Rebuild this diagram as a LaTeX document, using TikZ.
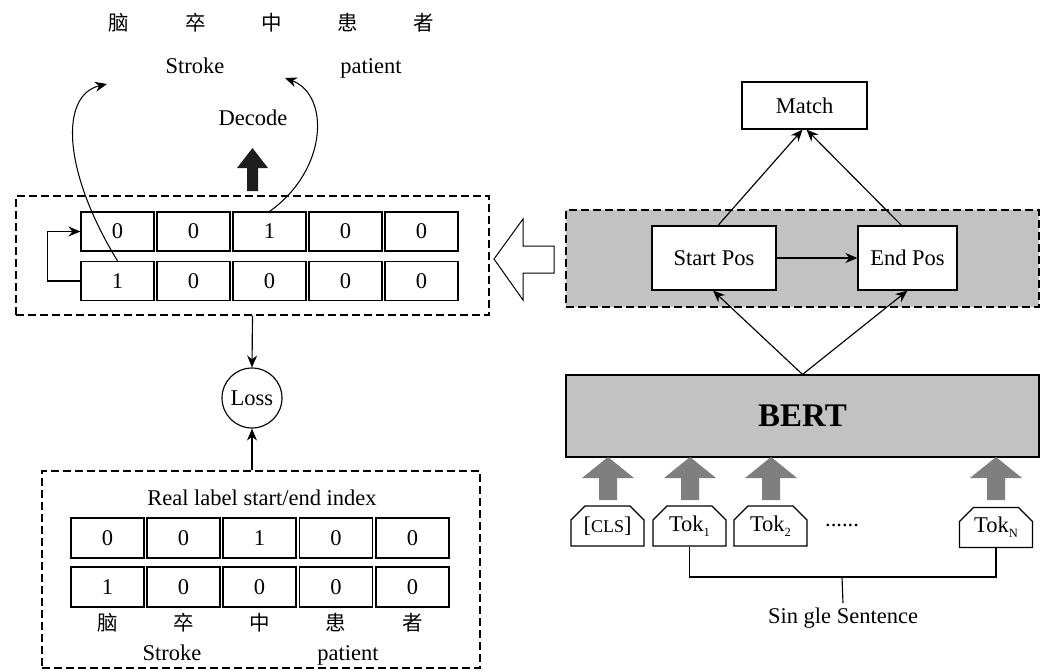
\documentclass[tikz,border=0pt]{standalone}
\usepackage{fontspec}
\setmainfont{Liberation Serif}
\newfontfamily\cjk{Noto Sans CJK SC}
\usetikzlibrary{arrows.meta,shapes.misc}
\definecolor{boxgray}{HTML}{C2C2C2}
\definecolor{arrgray}{HTML}{7F7F7F}
\definecolor{darkarr}{HTML}{1E1E1E}
\tikzset{
  txt/.style={font=\fontsize{22.5}{26}\selectfont, inner sep=0pt},
  cjkt/.style={font=\cjk\fontsize{20.5}{24}\selectfont, inner sep=0pt},
  cell/.style={txt, draw, minimum width=73pt, minimum height=39pt},
  dbox/.style={draw, dash pattern=on 8pt off 4pt, inner sep=0pt},
  arr/.style={-{Stealth[length=12pt,width=10pt]}},
  posbox/.style={txt, draw, fill=white, minimum height=64pt},
  tokbox/.style={txt, draw, fill=white, chamfered rectangle, chamfered rectangle corners={north west,north east}, chamfered rectangle xsep=7pt, chamfered rectangle ysep=7pt, minimum width=73pt, minimum height=40pt},
}
\begin{document}
\begin{tikzpicture}[x=1pt,y=-1pt,line width=1.15pt]
\useasboundingbox (0,0) rectangle (1047,670);

% ---------- top words ----------
\foreach \c/\x [count=\i] in {脑/119,卒/196,中/272,患/348,者/424}
  \node[cjkt] (tc\i) at (\x,23) {\c};
\node[txt, anchor=base] (strokeT) at (195,73) {Stroke};
\node[txt, anchor=base] (patientT) at (371,73) {patient};
\node[txt] (decode) at (253,118) {Decode};
\fill[darkarr] (247,191) -- (258,191) -- (258,168) -- (268,168) -- (252.5,148) -- (237,168) -- (247,168) -- cycle;

% ---------- predicted grid ----------
\node[dbox, minimum width=473pt, minimum height=119pt] (boxA) at (252.5,255.5) {};
\foreach \v/\x [count=\i] in {0/117.5,0/193.5,1/269.5,0/345.5,0/421.5}
  \node[cell] (t\i) at (\x,231.5) {\v};
\foreach \v/\x [count=\i] in {1/117.5,0/193.5,0/269.5,0/345.5,0/421.5}
  \node[cell] (b\i) at (\x,281) {\v};
\draw[arr] (b1.west) -- ++(-33,0) |- (t1.west);
\coordinate (e1) at (107,84);
\coordinate (e2) at (285,78);
\draw[arr, line width=1.05pt] (b1.north) .. controls (62,170) and (60,95) .. (e1);
\draw[arr, line width=1.05pt] (t3.north) .. controls (328,170) and (330,95) .. (e2);

% ---------- loss ----------
\node[txt, draw, circle, minimum size=60pt] (loss) at (252,398) {Loss};
\draw[arr] (boxA.south) -- (loss.north);

% ---------- real label box ----------
\node[dbox, minimum width=438pt, minimum height=197pt] (boxB) at (261,569.5) {};
\draw[arr] (boxB.north -| loss) -- (loss.south);
\node[txt] (real) at (262,498) {Real label start/end index};
\foreach \v/\x [count=\i] in {0/107.5,0/183.5,1/259.5,0/336,0/412.5}
  \node[cell, minimum height=40pt] (r\i) at (\x,538) {\v};
\foreach \v/\x [count=\i] in {1/107.5,0/183.5,0/259.5,0/336,0/412.5}
  \node[cell, minimum height=40pt] (s\i) at (\x,587) {\v};
\foreach \c/\x [count=\i] in {脑/107.5,卒/183.5,中/259.5,患/336,者/412.5}
  \node[cjkt] (bc\i) at (\x,623) {\c};
\node[txt, anchor=base] (strokeB) at (172,660) {Stroke};
\node[txt, anchor=base] (patientB) at (348,660) {patient};

% ---------- hollow arrow ----------
\draw[fill=white, line width=1pt] (494,259) -- (523,219) -- (523,246) -- (554,246) -- (554,273) -- (523,273) -- (523,300) -- cycle;

% ---------- right part ----------
\node[dbox, fill=boxgray, minimum width=473pt, minimum height=97pt] (gbox) at (802.5,258.5) {};
\node[txt, draw, fill=white, minimum width=125pt, minimum height=47pt] (match) at (804.5,105.5) {Match};
\node[posbox, minimum width=124pt] (start) at (714,258) {Start Pos};
\node[posbox, minimum width=99pt] (endp) at (907.5,258) {End Pos};
\draw[arr] (start) -- (endp);
\draw[arr] ([xshift=4pt]start.north) -- ([xshift=-2pt]match.south);
\draw[arr] ([xshift=-6pt]endp.north) -- ([xshift=2pt]match.south);

\node[draw, fill=boxgray, minimum width=473pt, minimum height=82pt, inner sep=0pt,
      font=\bfseries\fontsize{33}{36}\selectfont] (bert) at (802.5,416) {BERT};
\draw[arr] (bert.north) -- ([xshift=-1pt]start.south);
\draw[arr] (bert.north) -- (endp.south);

% gray input arrows
\foreach \x in {608,690,771,996}
  \fill[arrgray] (\x-9,500) -- (\x+9,500) -- (\x+9,478) -- (\x+26,478) -- (\x,457) -- (\x-26,478) -- (\x-9,478) -- cycle;

% tokens
\node[tokbox] (cls) at (607.5,526) {[{\fontsize{18}{20}\selectfont CLS}]};
\node[tokbox] (tok1) at (689.5,526) {Tok\raisebox{-5pt}{\fontsize{12.5}{12}\selectfont 1}};
\node[tokbox] (tok2) at (770.5,526) {Tok\raisebox{-5pt}{\fontsize{12.5}{12}\selectfont 2}};
\node[tokbox] (tokn) at (996,527.5) {Tok\raisebox{-5pt}{\fontsize{12.5}{12}\selectfont N}};
\node[txt, anchor=base] (dots) at (842,526) {......};

\coordinate (br) at (842,577);
\draw (tok1.south) -- (tok1.south |- br) -- (tokn.south |- br) -- (tokn.south);
\node[txt, inner ysep=4pt] (sent) at (843,618) {Sin gle Sentence};
\draw (br) -- (sent.north);
\end{tikzpicture}
\end{document}
